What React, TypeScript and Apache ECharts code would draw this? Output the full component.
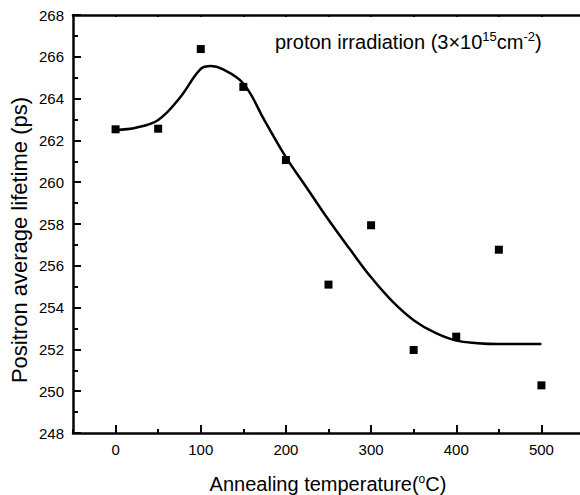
import React, { useEffect, useRef } from "react";
import * as echarts from "echarts";

const FONT = "'Liberation Sans', Arial, sans-serif";
const AXIS = "#050505";

// measured points
const temps = [0, 50, 100, 150, 200, 250, 300, 350, 400, 450, 500];
const lifetime = [262.53, 262.56, 266.37, 264.56, 261.06, 255.1, 257.94, 251.97, 252.61, 256.77, 250.28];

// fitted curve
const fitT = [0, 25, 50, 75, 100, 112, 125, 150, 175, 200, 225, 250, 275, 300, 325, 350, 375, 400, 425, 450, 475, 500];
const fitV = [262.5, 262.62, 262.98, 264.02, 265.42, 265.56, 265.42, 264.72, 262.95, 261.2, 259.7, 258.2, 256.8, 255.45, 254.3, 253.4, 252.8, 252.42, 252.3, 252.26, 252.26, 252.26];

const xMajor = [0, 100, 200, 300, 400, 500];
const xMin = -50;
const xMax = 550;
const yMin = 248;
const yMax = 268;

export default function App() {
  const ref = useRef<HTMLDivElement>(null);
  useEffect(() => {
    if (!ref.current) return;
    const chart = echarts.init(ref.current, null, { renderer: "svg" });
    chart.setOption({
      animation: false,
      grid: { left: 73, top: 15, right: -4, bottom: 62, containLabel: false, outerBoundsMode: "none" },
      xAxis: [
        {
          type: "value",
          position: "bottom",
          min: xMin,
          max: xMax,
          interval: 50,
          axisLine: { show: true, onZero: false, lineStyle: { color: AXIS, width: 2.5 } },
          axisTick: { show: true, inside: true, length: 4, lineStyle: { color: AXIS, width: 2 } },
          axisLabel: { show: true, customValues: xMajor, margin: 9, color: "#000", fontSize: 15, fontFamily: FONT },
          splitLine: { show: false },
        },
        {
          type: "value",
          position: "bottom",
          min: xMin,
          max: xMax,
          axisLine: { show: false, onZero: false },
          axisTick: { show: true, inside: true, length: 8, customValues: xMajor, lineStyle: { color: AXIS, width: 2 } },
          axisLabel: { show: false },
          splitLine: { show: false },
        },
        {
          type: "value",
          position: "top",
          min: xMin,
          max: xMax,
          interval: 50,
          axisLine: { show: true, onZero: false, lineStyle: { color: AXIS, width: 2.5 } },
          axisTick: { show: true, inside: true, length: 2, lineStyle: { color: AXIS, width: 2 } },
          axisLabel: { show: false },
          splitLine: { show: false },
        },
      ],
      yAxis: {
        type: "value",
        min: yMin,
        max: yMax,
        interval: 2,
        axisLine: { show: true, onZero: false, lineStyle: { color: AXIS, width: 2.5 } },
        axisTick: { show: true, inside: true, length: 8, lineStyle: { color: AXIS, width: 2 } },
        minorTick: { show: true, splitNumber: 2, length: 5, lineStyle: { color: AXIS, width: 2 } },
        axisLabel: { show: true, margin: 9, color: "#000", fontSize: 15, fontFamily: FONT },
        splitLine: { show: false },
      },
      series: [
        {
          type: "line",
          data: fitT.map((t, i) => [t, fitV[i]]),
          smooth: 0.4,
          showSymbol: false,
          lineStyle: { color: "#000", width: 2.5 },
        },
        {
          type: "scatter",
          data: temps.map((t, i) => [t, lifetime[i]]),
          symbol: "rect",
          symbolSize: 8,
          itemStyle: { color: "#000", opacity: 1 },
        },
      ],
      graphic: [
        {
          type: "text",
          left: 275,
          top: 30,
          style: {
            text: "{a|proton irradiation (3×10}{s|15}{a|cm}{s|-2}{a|)}",
            rich: {
              a: { fontSize: 20, fontFamily: FONT, fill: "#000", verticalAlign: "bottom" },
              s: { fontSize: 13, fontFamily: FONT, fill: "#000", verticalAlign: "bottom", padding: [0, 0, 9, 0] },
            },
          },
        },
        {
          type: "text",
          x: 328,
          y: 483,
          style: {
            text: "{a|Annealing temperature(}{s|o}{a|C)}",
            align: "center",
            verticalAlign: "middle",
            rich: {
              a: { fontSize: 20, fontFamily: FONT, fill: "#000", verticalAlign: "bottom" },
              s: { fontSize: 12, fontFamily: FONT, fill: "#000", verticalAlign: "bottom", padding: [0, 0, 9, 0] },
            },
          },
        },
        {
          type: "text",
          x: 19,
          y: 240,
          rotation: Math.PI / 2,
          style: {
            text: "Positron average lifetime (ps)",
            fontSize: 22,
            fontFamily: FONT,
            fill: "#000",
            align: "center",
            verticalAlign: "middle",
          },
        },
      ],
    });
    return () => chart.dispose();
  }, []);
  return <div ref={ref} style={{ width: 580, height: 495, position: "absolute", left: 0, top: 0 }} />;
}
